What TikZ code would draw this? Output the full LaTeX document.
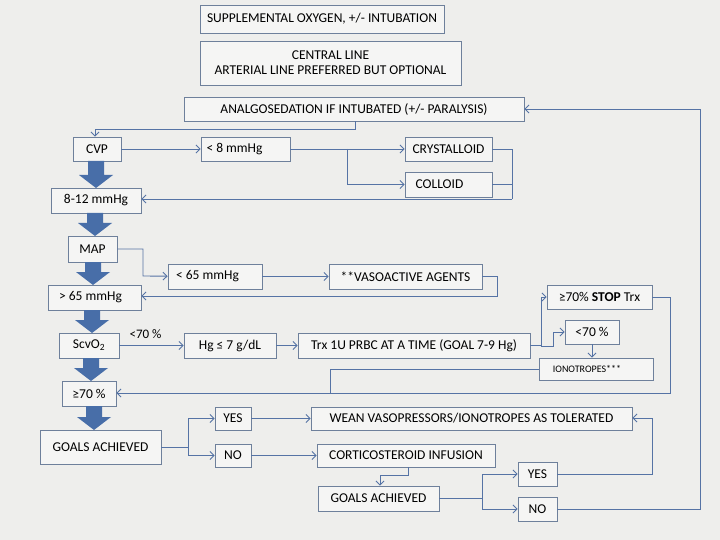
\documentclass[tikz,border=0pt]{standalone}
\usepackage{fontspec}
\setmainfont{Carlito}
\usetikzlibrary{arrows.meta,calc}
\definecolor{bg}{RGB}{238,238,236}
\definecolor{bord}{RGB}{110,128,155}
\definecolor{ln}{RGB}{85,115,165}
\definecolor{big}{RGB}{72,110,168}
\newcommand{\bx}[6]{\node[box,minimum width={#4-#2},minimum height={#5-#3}] (#1) at ({(#2+#4)/2},{(#3+#5)/2}) {#6};}
\begin{document}
\begin{tikzpicture}[x=1pt,y=-1pt,
 box/.style={draw=bord,fill=white!40!bg,line width=0.8pt,inner sep=0pt,font=\fontsize{13.5}{15}\selectfont,align=center},
 con/.style={draw=ln,line width=0.9pt,-{Straight Barb[length=4pt,width=8pt]}},
 cl/.style={draw=ln,line width=0.9pt}]
\fill[bg] (0,0) rectangle (720,540);
\useasboundingbox (0,0) rectangle (720,540);
\bx{ox}{200}{5}{444}{33}{SUPPLEMENTAL OXYGEN, +/- INTUBATION}
\bx{cen}{200}{41}{461}{85}{CENTRAL LINE\\ARTERIAL LINE PREFERRED BUT OPTIONAL}
\bx{an}{184}{97}{524}{121}{ANALGOSEDATION IF INTUBATED (+/- PARALYSIS)}
\bx{cvp}{73}{137}{121}{161}{CVP}
\bx{l8}{201}{137}{290}{161}{\hspace*{-22pt}< 8 mmHg}
\bx{cry}{405}{137}{492}{161}{CRYSTALLOID}
\bx{col}{405}{172}{492}{197}{\hspace*{-18pt}COLLOID}
\bx{m812}{51}{188}{141}{213}{8-12 mmHg}
\bx{map}{68}{236}{117}{262}{MAP}
\bx{l65}{168}{264}{262}{289}{\hspace*{-15pt}< 65 mmHg}
\bx{vaso}{329}{264}{482}{289}{**VASOACTIVE AGENTS}
\bx{g65}{48}{285}{141}{310}{\hspace*{-8pt}> 65 mmHg}
\bx{scv}{59}{333}{119}{358}{ScvO\textsubscript{2}}
\bx{hg}{184}{333}{276}{358}{Hg ≤ 7 g/dL}
\bx{trx}{298}{333}{530}{358}{Trx 1U PRBC AT A TIME (GOAL 7-9 Hg)}
\bx{stop}{547}{285}{652}{309}{≥70\% \textbf{STOP} Trx}
\bx{l70}{565}{320}{619}{344}{<70 \%}
\node[box,minimum width=114,minimum height=22,font=\fontsize{10}{12}\selectfont] (iono) at (596,369) {\hspace*{-18pt}IONOTROPES***};
\bx{g70}{62}{381}{116}{406}{≥70 \%}
\bx{ga1}{40}{430}{161}{464}{GOALS ACHIEVED}
\bx{yes1}{215}{407}{251}{430}{YES}
\bx{no1}{215}{444}{251}{467}{NO}
\bx{wean}{311}{407}{632}{430}{WEAN VASOPRESSORS/IONOTROPES AS TOLERATED}
\bx{cort}{317}{444}{495}{467}{CORTICOSTEROID INFUSION}
\bx{yes2}{518}{462}{557}{486}{YES}
\bx{ga2}{318}{486}{439}{511}{GOALS ACHIEVED}
\bx{no2}{518}{497}{557}{521}{NO}
% big arrows: x, top y, bottom y
\foreach \xx/\ya/\yb in {96/161/188, 95/213/236, 93/262/285, 92/310/333, 91/358/381, 94/406/430}{
 \fill[big] (\xx-8,\ya) -- (\xx+8,\ya) -- (\xx+8,\yb-13) -- (\xx+17,\yb-13) -- (\xx,\yb) -- (\xx-17,\yb-13) -- (\xx-8,\yb-13) -- cycle;
}
% connectors
\draw[con] (an.south -| 355,0) |- (95,129) -- (cvp.north -| 95,0);
\draw[con] (cvp) -- (l8);
\draw[con] (l8) -- (cry);
\draw[con] (347,149) |- (col);
\draw[cl] (cry) -| (512,199);
\draw[cl] (col) -- (512,184.5);
\draw[con] (512,199) -- (m812.east |- 0,199);
\draw[con] (map.east |- 0,249) -| (143,276) -- (l65);
\draw[con] (l65) -- (vaso);
\draw[con] (vaso.east) -| (497,296) -- (g65.east |- 0,296);
\draw[con] (scv) -- node[above,font=\fontsize{13}{15}\selectfont,yshift=3pt,xshift=-6pt]{<70 \%} (hg);
\draw[con] (hg) -- (trx);
\draw[con] (trx.east) -| (541,297) -- (stop.west |- 0,297);
\draw[con] (541,346) -| (553,332) -- (l70);
\draw[con] (l70) -- (iono.north -| l70);
\draw[cl] (iono.west) -| (330,393);
\draw[con] (stop.east) -| (670,393) -- (g70.east |- 0,393);
\draw[cl] (ga1.east |- 0,447) -- (188,447);
\draw[con] (188,447) |- (yes1);
\draw[con] (188,447) |- (no1);
\draw[con] (yes1) -- (wean);
\draw[con] (no1) -- (cort);
\draw[con] (cort.south -| 408,0) |- (380,475) -- (ga2.north -| 380,0);
\draw[cl] (ga2.east |- 0,498) -- (482,498);
\draw[con] (482,498) |- (yes2);
\draw[con] (482,498) |- (no2);
\draw[con] (yes2.east) -| (652,418) -- (wean.east |- 0,418);
\draw[con] (no2.east) -| (700,109) -- (an.east |- 0,109);
\end{tikzpicture}
\end{document}
